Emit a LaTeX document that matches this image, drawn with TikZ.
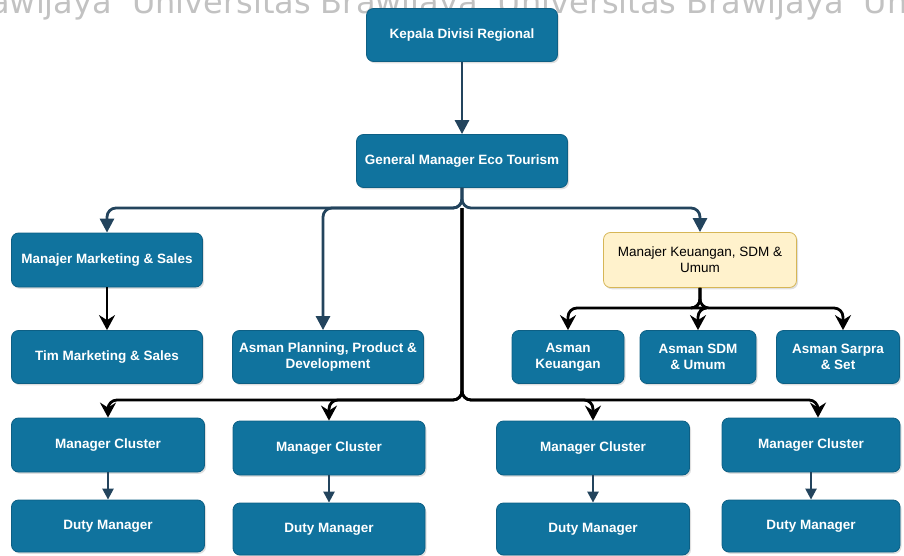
\documentclass[tikz,border=0pt]{standalone}
\usepackage{fontspec}
\setmainfont{Liberation Sans}
\newfontfamily\markfont{DejaVu Sans}
\usetikzlibrary{arrows.meta,shadows}
\definecolor{boxblue}{HTML}{10739E}
\definecolor{boxedge}{HTML}{0D5F84}
\definecolor{slate}{HTML}{23445D}
\definecolor{notefill}{HTML}{FFF2CC}
\definecolor{noteedge}{HTML}{D6B656}
\definecolor{markgray}{HTML}{C2C2C2}
\begin{document}
\begin{tikzpicture}[x=1pt, y=-1pt,
    box/.style={draw=boxedge, line width=0.8pt, fill=boxblue, rounded corners=7pt,
        text=white, font=\bfseries\fontsize{13.5}{16}\selectfont, align=center,
        minimum width=191pt, minimum height=53pt, inner sep=2pt,
        drop shadow={shadow xshift=1.5pt, shadow yshift=-1.8pt, opacity=0.25}},
    notebox/.style={box, draw=noteedge, fill=notefill, text=black, font=\fontsize{13.5}{16}\selectfont},
    link/.style={slate, line width=2.8pt, rounded corners=9pt, -{Triangle[length=14pt, width=14pt]}},
    sublink/.style={black, line width=2.8pt, rounded corners=9pt, -{Stealth[length=15pt, width=16pt, inset=5pt]}},
    shortlink/.style={slate, line width=2.4pt, -{Triangle[length=11pt, width=11pt]}}]
    \clip (0,0) rectangle (904,556);

    % Watermark
    \node[anchor=base west, inner sep=0pt, text=markgray, font=\markfont\fontsize{32}{32}\selectfont] (mark) at (-45,14)
        {Brawijaya\hspace{20pt}Universitas Brawijaya\hspace{20pt}Universitas Brawijaya\hspace{20pt}Universitas};

    % Top levels
    \node[box] (kdr) at (462,35) {Kepala Divisi Regional};
    \node[box, minimum width=211pt] (gm) at (462,161) {General Manager Eco Tourism};

    % Marketing, planning and finance
    \node[box, minimum height=54pt] (mms) at (107,260) {Manajer Marketing \& Sales};
    \node[box] (tms) at (107,357) {Tim Marketing \& Sales};
    \node[box] (apd) at (328,357) {Asman Planning, Product \&\\Development};
    \node[notebox, minimum width=193pt, minimum height=55pt] (mk) at (700,260) {Manajer Keuangan, SDM \&\\Umum};
    \node[box, minimum width=112pt] (ak) at (568,357) {Asman\\Keuangan};
    \node[box, minimum width=116pt] (asdm) at (698,357) {Asman SDM\\\& Umum};
    \node[box, minimum width=123pt] (asp) at (838,357) {Asman Sarpra\\\& Set};

    % Clusters
    \node[box, minimum width=193pt, minimum height=54pt] (mc1) at (108,445) {Manager Cluster};
    \node[box, minimum width=192pt, minimum height=54pt] (mc2) at (329,448) {Manager Cluster};
    \node[box, minimum width=193pt, minimum height=54pt] (mc3) at (593,448) {Manager Cluster};
    \node[box, minimum width=178pt, minimum height=54pt] (mc4) at (811,445) {Manager Cluster};
    \node[box, minimum width=193pt, minimum height=52pt] (dm1) at (108,526) {Duty Manager};
    \node[box, minimum width=192pt, minimum height=52pt] (dm2) at (329,529) {Duty Manager};
    \node[box, minimum width=193pt, minimum height=52pt] (dm3) at (593,529) {Duty Manager};
    \node[box, minimum width=178pt, minimum height=52pt] (dm4) at (811,526) {Duty Manager};

    % Bus points
    \coordinate (busA) at (462,208);
    \coordinate (busB) at (462,400);
    \coordinate (busC) at (700,308);

    % Arrows
    \draw[link] (kdr) -- (gm);
    \draw[link] (gm) -- (busA) -| (mms);
    \draw[link] (gm) -- (busA) -| ([xshift=-5pt]apd.north);
    \draw[link] (gm) -- (busA) -| (mk);
    \draw[sublink] (mms) -- (tms);
    \draw[sublink] (mk) -- (busC) -| (ak);
    \draw[sublink] (mk) -- (busC) -| (asdm);
    \draw[sublink] (mk) -- (busC) -| ([xshift=5pt]asp.north);
    \draw[sublink] (busA) -- (busB) -| (mc1);
    \draw[sublink] (busA) -- (busB) -| (mc2);
    \draw[sublink] (busA) -- (busB) -| (mc3);
    \draw[sublink] (busA) -- (busB) -| ([xshift=7pt]mc4.north);
    \draw[shortlink] (mc1) -- (dm1);
    \draw[shortlink] (mc2) -- (dm2);
    \draw[shortlink] (mc3) -- (dm3);
    \draw[shortlink] (mc4) -- (dm4);
\end{tikzpicture}
\end{document}
